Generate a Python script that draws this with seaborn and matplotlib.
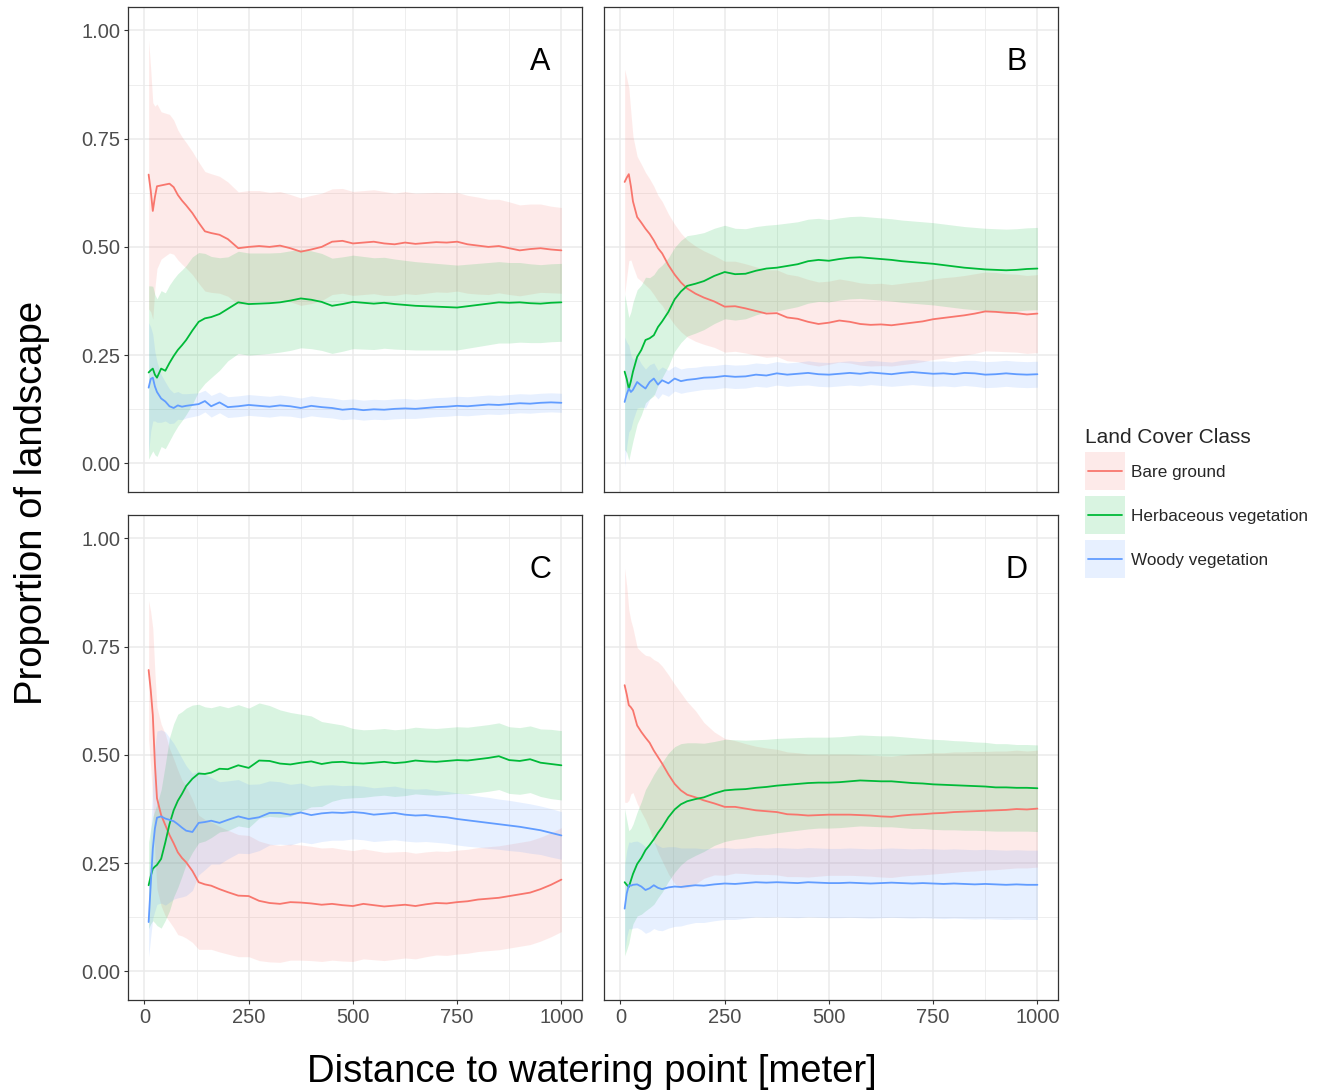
import numpy as np
import pandas as pd
import matplotlib
matplotlib.use("Agg")
import matplotlib.pyplot as plt
import seaborn as sns
from matplotlib.patches import Rectangle
from matplotlib.lines import Line2D
from matplotlib.legend_handler import HandlerBase
from matplotlib.ticker import MultipleLocator

# ---------------- data ----------------
distance = [10, 15, 20, 25, 30, 40, 50, 60, 70, 80, 90, 100, 115, 130, 145, 160, 180, 200, 225, 250,
            275, 300, 325, 350, 375, 400, 425, 450, 475, 500, 525, 550, 575, 600, 625, 650, 675, 700, 725, 750,
            775, 800, 825, 850, 875, 900, 925, 950, 975, 1000]

classes = ["Bare ground", "Herbaceous vegetation", "Woody vegetation"]
panel_labels = ["A", "B", "C", "D"]

# Panel A
A_bare = [0.667, 0.630, 0.583, 0.615, 0.640, 0.642, 0.644, 0.646, 0.638, 0.620, 0.607, 0.596, 0.578, 0.556, 0.536, 0.532, 0.528, 0.518, 0.497, 0.500,
          0.502, 0.500, 0.503, 0.497, 0.489, 0.494, 0.500, 0.512, 0.514, 0.508, 0.510, 0.512, 0.508, 0.506, 0.510, 0.507, 0.509, 0.511, 0.510, 0.512,
          0.506, 0.503, 0.500, 0.502, 0.497, 0.492, 0.495, 0.497, 0.494, 0.492]
A_bare_sd = [0.31, 0.28, 0.25, 0.21, 0.19, 0.17, 0.165, 0.16, 0.155, 0.15, 0.147, 0.145, 0.142, 0.14, 0.138, 0.137, 0.135, 0.132, 0.13, 0.13,
             0.128, 0.126, 0.125, 0.124, 0.124, 0.125, 0.124, 0.122, 0.121, 0.12, 0.12, 0.12, 0.12, 0.118, 0.118, 0.117, 0.116, 0.115, 0.115, 0.114,
             0.113, 0.112, 0.11, 0.108, 0.107, 0.105, 0.104, 0.102, 0.1, 0.099]
A_herb = [0.210, 0.215, 0.219, 0.205, 0.198, 0.219, 0.214, 0.232, 0.248, 0.262, 0.273, 0.285, 0.307, 0.327, 0.335, 0.338, 0.345, 0.357, 0.372, 0.368,
          0.369, 0.370, 0.372, 0.376, 0.381, 0.378, 0.373, 0.364, 0.368, 0.373, 0.371, 0.369, 0.371, 0.368, 0.366, 0.364, 0.363, 0.362, 0.361, 0.360,
          0.363, 0.366, 0.369, 0.372, 0.371, 0.372, 0.370, 0.369, 0.371, 0.372]
A_herb_sd = [0.20, 0.195, 0.19, 0.185, 0.182, 0.18, 0.18, 0.18, 0.178, 0.176, 0.174, 0.172, 0.17, 0.16, 0.15, 0.14, 0.13, 0.12, 0.118, 0.118,
             0.117, 0.116, 0.115, 0.115, 0.114, 0.113, 0.112, 0.11, 0.109, 0.108, 0.107, 0.106, 0.105, 0.104, 0.103, 0.102, 0.101, 0.1, 0.099, 0.098,
             0.097, 0.096, 0.095, 0.094, 0.093, 0.092, 0.091, 0.09, 0.09, 0.09]
A_woody = [0.175, 0.195, 0.198, 0.178, 0.165, 0.150, 0.143, 0.132, 0.128, 0.134, 0.131, 0.133, 0.135, 0.137, 0.144, 0.132, 0.141, 0.130, 0.132, 0.135,
           0.133, 0.131, 0.134, 0.132, 0.128, 0.133, 0.130, 0.128, 0.124, 0.126, 0.123, 0.125, 0.124, 0.126, 0.127, 0.126, 0.128, 0.130, 0.131, 0.133,
           0.132, 0.134, 0.136, 0.135, 0.137, 0.139, 0.138, 0.140, 0.141, 0.140]
A_woody_sd = [0.15, 0.12, 0.10, 0.08, 0.07, 0.055, 0.045, 0.04, 0.035, 0.032, 0.03, 0.028, 0.027, 0.026, 0.025, 0.025, 0.024, 0.024, 0.024, 0.024,
              0.024, 0.024, 0.024, 0.023, 0.023, 0.023, 0.023, 0.023, 0.023, 0.023, 0.023, 0.023, 0.023, 0.023, 0.023, 0.022, 0.022, 0.022, 0.022, 0.022,
              0.022, 0.022, 0.022, 0.022, 0.022, 0.022, 0.022, 0.022, 0.022, 0.022]

# Panel B
B_bare = [0.650, 0.660, 0.668, 0.640, 0.605, 0.569, 0.556, 0.542, 0.530, 0.515, 0.497, 0.485, 0.458, 0.436, 0.418, 0.404, 0.392, 0.383, 0.374, 0.362,
          0.363, 0.358, 0.352, 0.346, 0.347, 0.337, 0.334, 0.327, 0.322, 0.325, 0.330, 0.327, 0.322, 0.320, 0.321, 0.319, 0.322, 0.325, 0.328, 0.333,
          0.336, 0.339, 0.342, 0.346, 0.351, 0.350, 0.348, 0.347, 0.344, 0.346]
B_bare_sd = [0.26, 0.23, 0.20, 0.17, 0.15, 0.14, 0.135, 0.13, 0.127, 0.125, 0.122, 0.12, 0.118, 0.116, 0.114, 0.112, 0.11, 0.108, 0.106, 0.105,
             0.104, 0.103, 0.102, 0.101, 0.1, 0.1, 0.099, 0.098, 0.097, 0.096, 0.096, 0.095, 0.095, 0.095, 0.095, 0.094, 0.094, 0.094, 0.093, 0.093,
             0.093, 0.092, 0.092, 0.092, 0.091, 0.091, 0.09, 0.09, 0.09, 0.09]
B_herb = [0.212, 0.195, 0.172, 0.190, 0.212, 0.246, 0.262, 0.285, 0.289, 0.296, 0.315, 0.328, 0.350, 0.379, 0.397, 0.410, 0.415, 0.421, 0.433, 0.442,
          0.437, 0.438, 0.445, 0.450, 0.452, 0.456, 0.460, 0.467, 0.470, 0.468, 0.472, 0.475, 0.476, 0.474, 0.472, 0.470, 0.467, 0.465, 0.463, 0.461,
          0.458, 0.455, 0.452, 0.450, 0.448, 0.447, 0.446, 0.447, 0.449, 0.450]
B_herb_sd = [0.18, 0.17, 0.165, 0.16, 0.16, 0.155, 0.15, 0.145, 0.14, 0.14, 0.135, 0.13, 0.125, 0.12, 0.118, 0.116, 0.114, 0.112, 0.11, 0.108,
             0.106, 0.104, 0.102, 0.1, 0.1, 0.099, 0.098, 0.097, 0.096, 0.095, 0.095, 0.095, 0.095, 0.095, 0.095, 0.095, 0.095, 0.095, 0.095, 0.095,
             0.095, 0.095, 0.095, 0.095, 0.095, 0.095, 0.095, 0.095, 0.095, 0.095]
B_woody = [0.142, 0.160, 0.173, 0.165, 0.170, 0.188, 0.180, 0.173, 0.188, 0.196, 0.182, 0.192, 0.185, 0.196, 0.190, 0.193, 0.195, 0.198, 0.199, 0.202,
           0.200, 0.201, 0.205, 0.203, 0.208, 0.205, 0.207, 0.209, 0.206, 0.205, 0.207, 0.209, 0.207, 0.210, 0.208, 0.206, 0.209, 0.211, 0.209, 0.207,
           0.208, 0.206, 0.209, 0.208, 0.205, 0.206, 0.208, 0.206, 0.205, 0.206]
B_woody_sd = [0.15, 0.12, 0.10, 0.085, 0.07, 0.06, 0.05, 0.045, 0.04, 0.036, 0.033, 0.031, 0.03, 0.029, 0.028, 0.028, 0.027, 0.027, 0.027, 0.027,
              0.027, 0.027, 0.027, 0.027, 0.027, 0.027, 0.027, 0.028, 0.028, 0.028, 0.028, 0.028, 0.028, 0.028, 0.028, 0.028, 0.029, 0.029, 0.029, 0.029,
              0.029, 0.029, 0.029, 0.03, 0.03, 0.03, 0.03, 0.03, 0.03, 0.03]

# Panel C
C_bare = [0.696, 0.650, 0.592, 0.480, 0.400, 0.361, 0.338, 0.315, 0.296, 0.275, 0.262, 0.252, 0.232, 0.206, 0.201, 0.198, 0.190, 0.183, 0.175, 0.174,
          0.163, 0.158, 0.156, 0.160, 0.159, 0.157, 0.154, 0.156, 0.153, 0.151, 0.156, 0.153, 0.150, 0.152, 0.154, 0.151, 0.155, 0.158, 0.157, 0.160,
          0.162, 0.166, 0.168, 0.170, 0.174, 0.178, 0.182, 0.190, 0.200, 0.212]
C_bare_sd = [0.16, 0.18, 0.20, 0.21, 0.21, 0.21, 0.21, 0.20, 0.195, 0.19, 0.18, 0.175, 0.165, 0.155, 0.15, 0.147, 0.145, 0.143, 0.141, 0.14,
             0.138, 0.136, 0.135, 0.134, 0.133, 0.132, 0.131, 0.13, 0.129, 0.128, 0.127, 0.126, 0.125, 0.124, 0.123, 0.122, 0.121, 0.12, 0.12, 0.12,
             0.12, 0.12, 0.12, 0.12, 0.12, 0.12, 0.12, 0.12, 0.12, 0.12]
C_herb = [0.199, 0.220, 0.237, 0.242, 0.246, 0.260, 0.298, 0.340, 0.372, 0.394, 0.410, 0.428, 0.445, 0.457, 0.456, 0.459, 0.468, 0.467, 0.476, 0.470,
          0.487, 0.486, 0.480, 0.478, 0.482, 0.485, 0.479, 0.483, 0.484, 0.481, 0.480, 0.482, 0.484, 0.481, 0.483, 0.487, 0.485, 0.484, 0.486, 0.488,
          0.487, 0.490, 0.493, 0.497, 0.488, 0.486, 0.490, 0.482, 0.479, 0.476]
C_herb_sd = [0.10, 0.11, 0.12, 0.13, 0.14, 0.16, 0.18, 0.20, 0.20, 0.20, 0.19, 0.18, 0.17, 0.16, 0.155, 0.15, 0.146, 0.142, 0.14, 0.138,
             0.133, 0.128, 0.124, 0.12, 0.112, 0.105, 0.098, 0.09, 0.085, 0.08, 0.078, 0.077, 0.077, 0.077, 0.077, 0.077, 0.077, 0.077, 0.077, 0.077,
             0.077, 0.077, 0.077, 0.077, 0.077, 0.077, 0.077, 0.078, 0.08, 0.08]
C_woody = [0.114, 0.200, 0.283, 0.330, 0.355, 0.358, 0.353, 0.350, 0.347, 0.340, 0.332, 0.325, 0.322, 0.343, 0.345, 0.348, 0.343, 0.350, 0.358, 0.352,
           0.356, 0.366, 0.366, 0.362, 0.367, 0.361, 0.365, 0.367, 0.366, 0.368, 0.366, 0.362, 0.364, 0.366, 0.362, 0.360, 0.361, 0.358, 0.356, 0.352,
           0.349, 0.346, 0.343, 0.340, 0.337, 0.334, 0.330, 0.326, 0.320, 0.314]
C_woody_sd = [0.08, 0.12, 0.16, 0.19, 0.20, 0.20, 0.20, 0.19, 0.18, 0.17, 0.16, 0.15, 0.135, 0.12, 0.11, 0.10, 0.095, 0.09, 0.085, 0.08,
              0.077, 0.074, 0.072, 0.07, 0.068, 0.066, 0.065, 0.064, 0.063, 0.062, 0.062, 0.062, 0.062, 0.062, 0.061, 0.061, 0.061, 0.06, 0.06, 0.06,
              0.06, 0.059, 0.059, 0.058, 0.058, 0.057, 0.057, 0.056, 0.056, 0.055]

# Panel D
D_bare = [0.661, 0.640, 0.615, 0.610, 0.603, 0.568, 0.553, 0.540, 0.528, 0.510, 0.495, 0.480, 0.455, 0.433, 0.418, 0.408, 0.402, 0.395, 0.388, 0.380,
          0.380, 0.376, 0.372, 0.370, 0.368, 0.363, 0.362, 0.360, 0.361, 0.362, 0.362, 0.362, 0.361, 0.360, 0.358, 0.357, 0.360, 0.362, 0.363, 0.365,
          0.366, 0.368, 0.369, 0.370, 0.371, 0.372, 0.373, 0.375, 0.374, 0.376]
D_bare_sd = [0.27, 0.25, 0.22, 0.20, 0.19, 0.18, 0.185, 0.19, 0.20, 0.21, 0.22, 0.225, 0.23, 0.23, 0.225, 0.215, 0.20, 0.18, 0.165, 0.158,
             0.153, 0.15, 0.148, 0.146, 0.145, 0.144, 0.143, 0.142, 0.141, 0.14, 0.14, 0.14, 0.14, 0.14, 0.14, 0.14, 0.14, 0.14, 0.14, 0.14,
             0.139, 0.139, 0.138, 0.138, 0.137, 0.137, 0.136, 0.136, 0.135, 0.135]
D_herb = [0.206, 0.200, 0.195, 0.210, 0.225, 0.248, 0.262, 0.280, 0.292, 0.305, 0.320, 0.333, 0.356, 0.374, 0.386, 0.393, 0.398, 0.402, 0.411, 0.418,
          0.420, 0.421, 0.424, 0.426, 0.429, 0.431, 0.433, 0.435, 0.436, 0.436, 0.437, 0.439, 0.441, 0.440, 0.439, 0.439, 0.437, 0.435, 0.434, 0.432,
          0.431, 0.430, 0.429, 0.428, 0.427, 0.425, 0.425, 0.424, 0.424, 0.423]
D_herb_sd = [0.17, 0.15, 0.13, 0.12, 0.115, 0.12, 0.13, 0.14, 0.145, 0.15, 0.15, 0.15, 0.148, 0.145, 0.14, 0.135, 0.13, 0.125, 0.12, 0.118,
             0.115, 0.113, 0.111, 0.11, 0.109, 0.108, 0.107, 0.106, 0.105, 0.105, 0.105, 0.105, 0.105, 0.105, 0.105, 0.105, 0.105, 0.105, 0.104, 0.104,
             0.104, 0.103, 0.103, 0.102, 0.102, 0.101, 0.101, 0.1, 0.1, 0.1]
D_woody = [0.145, 0.180, 0.199, 0.198, 0.200, 0.201, 0.196, 0.188, 0.192, 0.199, 0.193, 0.190, 0.194, 0.196, 0.195, 0.197, 0.199, 0.198, 0.201, 0.203,
           0.202, 0.204, 0.206, 0.205, 0.206, 0.205, 0.204, 0.206, 0.205, 0.204, 0.204, 0.205, 0.204, 0.203, 0.204, 0.205, 0.204, 0.203, 0.204, 0.203,
           0.202, 0.203, 0.202, 0.201, 0.202, 0.201, 0.200, 0.201, 0.200, 0.200]
D_woody_sd = [0.10, 0.10, 0.10, 0.10, 0.10, 0.10, 0.10, 0.10, 0.10, 0.10, 0.098, 0.096, 0.094, 0.092, 0.09, 0.088, 0.086, 0.085, 0.084, 0.083,
              0.082, 0.081, 0.08, 0.08, 0.08, 0.08, 0.08, 0.08, 0.08, 0.08, 0.08, 0.08, 0.08, 0.08, 0.08, 0.08, 0.08, 0.08, 0.08, 0.08,
              0.08, 0.08, 0.08, 0.08, 0.08, 0.08, 0.08, 0.08, 0.08, 0.08]

# ---------------- assemble long table ----------------
series = {
    "A": [(A_bare, A_bare_sd), (A_herb, A_herb_sd), (A_woody, A_woody_sd)],
    "B": [(B_bare, B_bare_sd), (B_herb, B_herb_sd), (B_woody, B_woody_sd)],
    "C": [(C_bare, C_bare_sd), (C_herb, C_herb_sd), (C_woody, C_woody_sd)],
    "D": [(D_bare, D_bare_sd), (D_herb, D_herb_sd), (D_woody, D_woody_sd)],
}
rows = []
for p in panel_labels:
    for cls, (m, s) in zip(classes, series[p]):
        for d, mv, sv in zip(distance, m, s):
            rows.append({"panel": p, "class": cls, "distance": d, "mean": mv, "sd": sv})
df = pd.DataFrame(rows)
df["lo"] = df["mean"] - df["sd"]
df["hi"] = df["mean"] + df["sd"]

# ---------------- style ----------------
sns.set_theme(style="white")
plt.rcParams['font.family'] = ['Liberation Sans', 'DejaVu Sans']

palette = dict(zip(classes, ["#F8766D", "#00BA38", "#619CFF"]))
ribbon_alpha = 0.15
line_w = 1.3
W, H = 1324, 1092
fig = plt.figure(figsize=(W / 100, H / 100), dpi=100)

boxes = {
    "A": (128, 7, 582, 492),
    "B": (604, 7, 1058, 492),
    "C": (128, 515, 582, 1000),
    "D": (604, 515, 1058, 1000),
}

grid_c = "#EBEBEB"
for p in panel_labels:
    l, t, r, b = boxes[p]
    ax = fig.add_axes([l / W, 1 - b / H, (r - l) / W, (b - t) / H])
    sub = df[df["panel"] == p]
    for cls in classes:
        s = sub[sub["class"] == cls]
        ax.fill_between(s["distance"], s["lo"], s["hi"], color=palette[cls], alpha=ribbon_alpha,
                        linewidth=0, zorder=2)
    sns.lineplot(data=sub, x="distance", y="mean", hue="class", hue_order=classes, palette=palette,
                 errorbar=None, legend=False, linewidth=line_w, ax=ax, zorder=3)
    ax.set_xlim(-39.5, 1049.5)
    ax.set_ylim(-0.066, 1.054)
    ax.xaxis.set_major_locator(MultipleLocator(250))
    ax.xaxis.set_minor_locator(MultipleLocator(125))
    ax.yaxis.set_major_locator(MultipleLocator(0.25))
    ax.yaxis.set_minor_locator(MultipleLocator(0.125))
    ax.grid(which="major", color=grid_c, linewidth=1.1, zorder=0)
    ax.grid(which="minor", color=grid_c, linewidth=0.6, zorder=0)
    ax.set_axisbelow(True)
    for sp in ax.spines.values():
        sp.set_color("#333333")
        sp.set_linewidth(0.9)
    ax.set_xlabel("")
    ax.set_ylabel("")
    ax.tick_params(which="minor", length=0)
    left_col = p in ("A", "C")
    bottom_row = p in ("C", "D")
    ax.tick_params(axis="y", which="major", left=left_col, labelleft=left_col, length=3.2, width=0.8,
                   color="#333333", labelcolor="#4D4D4D", labelsize=14.5, pad=2.5)
    ax.tick_params(axis="x", which="major", bottom=bottom_row, labelbottom=bottom_row, length=3.2, width=0.8,
                   color="#333333", labelcolor="#4D4D4D", labelsize=14.5, pad=2.5)
    if left_col:
        ax.set_yticks([0, 0.25, 0.5, 0.75, 1.0])
        ax.set_yticklabels(["0.00", "0.25", "0.50", "0.75", "1.00"])
    if bottom_row:
        ax.set_xticks([0, 250, 500, 750, 1000])
        ax.set_xticklabels(["0", "250", "500", "750", "1000"])
    ax.text(950, 0.926, p, fontsize=22, color="black", ha="center", va="center", zorder=5)

fig.text(592 / W, 1 - 1072 / H, "Distance to watering point [meter]", fontsize=27.5,
         ha="center", va="center", color="black")
fig.text(32 / W, 1 - 503 / H, "Proportion of landscape", fontsize=27.5, rotation=90,
         ha="center", va="center", color="black")


# legend keys: translucent square with a line through its middle (ggplot style)
class KeyProxy:
    def __init__(self, color):
        self.color = color


class KeyHandler(HandlerBase):
    def create_artists(self, legend, orig_handle, xdescent, ydescent, width, height, fontsize, trans):
        c = 0.36 * fontsize
        kh = 2.22 * fontsize
        rect = Rectangle((-xdescent, c - kh / 2), width, kh, facecolor=orig_handle.color,
                         alpha=ribbon_alpha, edgecolor="none", transform=trans)
        line = Line2D([-xdescent + 0.075 * width, -xdescent + 0.925 * width], [c, c],
                      color=orig_handle.color, linewidth=line_w, transform=trans)
        return [rect, line]


handles = [KeyProxy(palette[c]) for c in classes]
leg = fig.legend(handles, classes, handler_map={KeyProxy: KeyHandler()},
                 loc="upper left", bbox_to_anchor=(1085 / W, 1 - 428 / H), frameon=False,
                 fontsize=12.3, title="Land Cover Class", title_fontsize=15,
                 handlelength=2.35, handleheight=3.0, labelspacing=0.38, handletextpad=0.35,
                 borderpad=0, borderaxespad=0, alignment="left")

fig.savefig("out.png", dpi=100)
